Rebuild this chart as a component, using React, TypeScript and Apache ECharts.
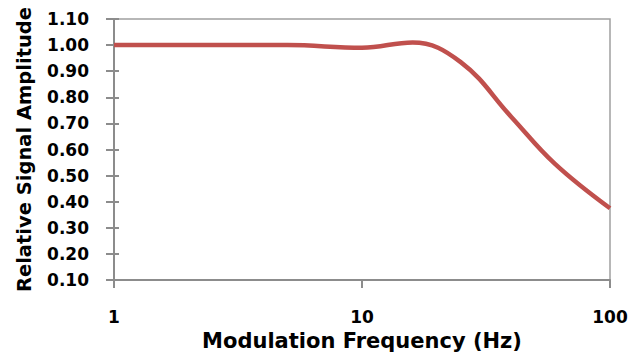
import React, { useEffect, useRef } from "react";
import * as echarts from "echarts";

// Modulation frequency (Hz) and the relative signal amplitude measured at each
const frequencies = [1, 2, 5, 10, 16, 25, 40, 60, 100];
const amplitudes = [1.0, 1.0, 1.0, 0.99, 1.01, 0.935, 0.725, 0.545, 0.375];

const xTitle = "Modulation Frequency (Hz)";
const yTitle = "Relative Signal Amplitude";

const FONT = "DejaVu Sans";
const AXIS_GRAY = "#8c8c8c";

export default function App() {
  const ref = useRef<HTMLDivElement>(null);

  useEffect(() => {
    if (!ref.current) return;
    const chart = echarts.init(ref.current, undefined, { renderer: "svg" });
    const points = frequencies.map((f, i) => [f, amplitudes[i]]);

    chart.setOption({
      animation: false,
      backgroundColor: "#ffffff",
      grid: {
        left: 114,
        top: 19,
        right: 22,
        bottom: 68,
        show: true,
        borderColor: "#a0a0a0",
        borderWidth: 1.5,
        backgroundColor: "transparent",
      },
      xAxis: {
        type: "log",
        logBase: 10,
        min: 1,
        max: 100,
        name: xTitle,
        nameLocation: "middle",
        nameGap: 48,
        nameTextStyle: { fontFamily: FONT, fontWeight: "bold", fontSize: 21, color: "#000" },
        axisLine: { show: true, lineStyle: { color: AXIS_GRAY, width: 2 } },
        axisTick: { show: true, inside: false, length: 8, lineStyle: { color: AXIS_GRAY, width: 2 } },
        minorTick: { show: false },
        splitLine: { show: false },
        axisLabel: {
          margin: 28,
          fontFamily: FONT,
          fontWeight: "bold",
          fontSize: 17,
          color: "#000",
          formatter: (v: number) => String(Math.round(v)),
        },
      },
      yAxis: [
        {
          type: "value",
          min: 0.1,
          max: 1.1,
          interval: 0.1,
          name: yTitle,
          nameLocation: "middle",
          nameGap: 80,
          nameTextStyle: { fontFamily: FONT, fontWeight: "bold", fontSize: 19.5, color: "#000" },
          axisLine: { show: true, lineStyle: { color: AXIS_GRAY, width: 2 } },
          axisTick: { show: true, inside: false, length: 8, lineStyle: { color: AXIS_GRAY, width: 2 } },
          splitLine: { show: false },
          axisLabel: {
            margin: 25,
            fontFamily: FONT,
            fontWeight: "bold",
            fontSize: 17,
            color: "#000",
            formatter: (v: number) => v.toFixed(2),
          },
        },
        {
          // inner half of the cross tick marks on the value axis
          type: "value",
          position: "left",
          min: 0.1,
          max: 1.1,
          interval: 0.1,
          axisLine: { show: false },
          axisTick: { show: true, inside: true, length: 5, lineStyle: { color: AXIS_GRAY, width: 2 } },
          axisLabel: { show: false },
          splitLine: { show: false },
        },
      ],
      series: [
        {
          type: "line",
          data: points,
          smooth: 0.4,
          showSymbol: false,
          lineStyle: { color: "#C0504D", width: 4.5 },
          z: 5,
        },
      ],
    });

    return () => chart.dispose();
  }, []);

  return (
    <div
      ref={ref}
      style={{ position: "fixed", left: 0, top: 0, width: 632, height: 356, background: "#fff" }}
    />
  );
}
